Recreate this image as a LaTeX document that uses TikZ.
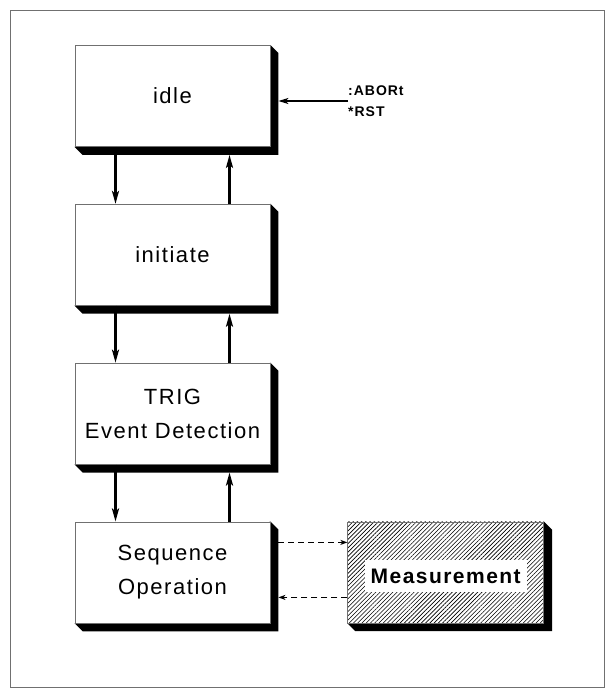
\documentclass[tikz,border=0pt]{standalone}
\usepackage{fontspec}
\setmainfont{Liberation Sans}
\newfontfamily\boxfont{Liberation Sans}[LetterSpace=7]
\usetikzlibrary{positioning, arrows.meta, backgrounds, patterns.meta}
\definecolor{frame}{HTML}{707070}
\definecolor{ink}{HTML}{000000}

\begin{document}
\begin{tikzpicture}[
    x=1pt, y=-1pt,
    node distance=57pt,
    statebox/.style={
        rectangle, draw=frame, line width=0.8pt, fill=white,
        minimum width=195pt, minimum height=101pt, align=center,
        inner sep=2pt, text=ink, font=\boxfont\fontsize{22}{34}\selectfont
    },
    hatchbox/.style={statebox, preaction={fill=white},
        pattern={Lines[angle=45, distance=3pt, line width=0.6pt]}},
    arr/.style={-{Stealth[length=13pt, width=7pt, inset=3pt]}, draw=ink, line width=2.6pt},
    cmdarr/.style={-{Stealth[length=10pt, width=6pt, inset=2.5pt]}, draw=ink, line width=1.4pt},
    dasharr/.style={-{Stealth[length=7pt, width=5pt, inset=2pt]}, draw=ink, line width=1.3pt,
        dash pattern=on 6pt off 4pt},
    cmd/.style={font=\boxfont\bfseries\fontsize{14}{21}\selectfont, align=left, inner sep=0pt, anchor=west},
]
\useasboundingbox (0,0) rectangle (605,688);
\draw[frame, line width=1pt] (10,10) rectangle (604,687);

% ---------------------------------------------------------------- state column
\node (idle) [statebox] at (172.5,96) {idle};
\node (init) [statebox, below=of idle]  {initiate};
\node (trig) [statebox, below=of init]  {TRIG\\Event Detection};
\node (seq)  [statebox, below=of trig]  {Sequence\\Operation};

% ---------------------------------------------------------------- measurement
\node (meas) [hatchbox, right=77pt of seq, minimum width=196pt] {};
\node (measlbl) [fill=white, inner xsep=6pt, minimum height=32pt,
    font=\boxfont\bfseries\fontsize{21}{25}\selectfont] at ([yshift=-3.5pt]meas.center) {Measurement};

% ---------------------------------------------------------------- shadows
\begin{scope}[on background layer]
\foreach \n in {idle, init, trig, seq, meas}
    \fill[ink] (\n.north east) -- ([shift={(8,8)}]\n.north east) -- ([shift={(8,8)}]\n.south east)
        -- ([shift={(8,8)}]\n.south west) -- (\n.south west) -- cycle;
\end{scope}

% ---------------------------------------------------------------- transitions
\foreach \a/\b in {idle/init, init/trig, trig/seq} {
    \draw [arr] ([xshift=-57pt]\a.south) -- ([xshift=-57pt]\b.north);
    \draw [arr, shorten >=8pt] ([xshift=57pt]\b.north) -- ([xshift=57pt]\a.south);
}

% ---------------------------------------------------------------- commands
\node (cmds) [cmd] at (348,101) {:ABORt\\*RST};
\draw [cmdarr, shorten >=8pt] (cmds.west) -- (cmds.west -| idle.east);

\draw [dasharr, shorten <=8pt] ([yshift=30pt]seq.east) -- ([yshift=30pt]seq.east -| meas.west);
\draw [dasharr, shorten >=8pt] ([yshift=-25pt]meas.west) -- ([yshift=-25pt]meas.west -| seq.east);

\end{tikzpicture}
\end{document}
